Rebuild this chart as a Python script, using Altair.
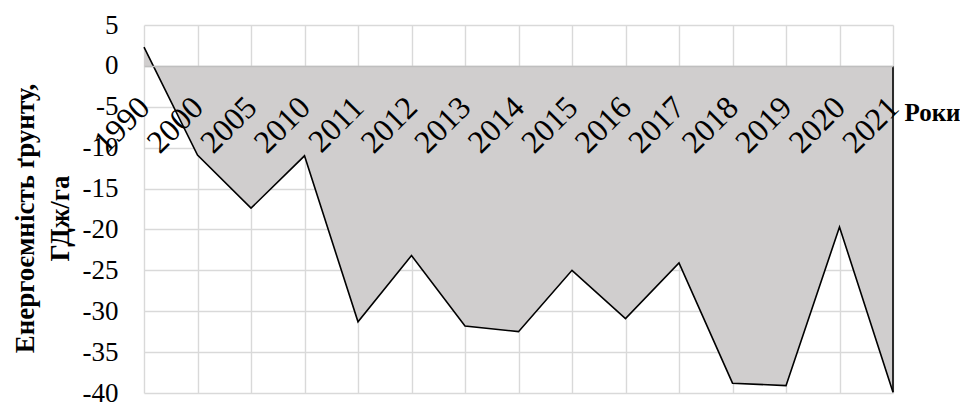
import altair as alt
import pandas as pd

years = ["1990", "2000", "2005", "2010", "2011", "2012", "2013", "2014",
         "2015", "2016", "2017", "2018", "2019", "2020", "2021"]
values = [2.3, -10.9, -17.4, -11.0, -31.3, -23.2, -31.8, -32.5,
          -25.0, -30.9, -24.1, -38.8, -39.1, -19.7, -39.9]
y_ticks = [5, 0, -5, -10, -15, -20, -25, -30, -35, -40]
y_title = ["Енергоємність ґрунту,", "ГДж/га"]
x_title = "Роки"

df = pd.DataFrame({"year": years, "value": values})

W, H = 749, 368
FONT = "Liberation Serif"
GRID = "#d9d9d9"

xscale = alt.Scale(type="point", padding=0, domain=years)
yscale = alt.Scale(domain=[-40, 5], nice=False, zero=False)

grid_x_axis = alt.Axis(
    orient="bottom", grid=True, gridColor=GRID, gridWidth=1.4, labels=False,
    ticks=False, domain=False, title=None, zindex=0,
)
label_x_axis = alt.Axis(
    orient="bottom", grid=False, labels=True, ticks=False, tickSize=0,
    domain=True, domainColor="#bfbfbf", domainWidth=1.5,
    offset=-H * 40 / 45,
    labelAngle=315, labelAlign="right", labelBaseline="middle",
    labelPadding=36, labelOffset=0, labelFont=FONT, labelFontSize=32,
    labelColor="black", labelOverlap=False, labelFlush=False, labelBound=False,
    title=x_title, titleFont=FONT, titleFontSize=25, titleFontWeight="bold",
    titleColor="black", titleAngle=0, titleAlign="left", titleBaseline="middle",
    titleX=760, titleY=47, zindex=1,
)
y_axis = alt.Axis(
    values=y_ticks, grid=True, gridColor=GRID, gridWidth=1.4, domain=False,
    ticks=False, labelPadding=26, labelFont=FONT, labelFontSize=27,
    labelColor="black", labelExpr="'' + datum.value",
    title=y_title, titleFont=FONT, titleFontSize=27, titleFontWeight="bold",
    titleColor="black", titleAngle=270, titleX=-111, titleY=193,
    titleAlign="center", titleBaseline="alphabetic", titleLineHeight=35,
)

area = alt.Chart(df).mark_area(color="#d0cece", opacity=1).encode(
    x=alt.X("year:O", sort=None, scale=xscale, axis=grid_x_axis),
    y=alt.Y("value:Q", scale=yscale, axis=y_axis),
    y2=alt.datum(0),
)
line = alt.Chart(df).mark_line(color="black", strokeWidth=1.6).encode(
    x=alt.X("year:O", sort=None, scale=xscale, axis=label_x_axis),
    y=alt.Y("value:Q", scale=yscale, axis=y_axis),
)
edge = alt.Chart(df).transform_filter(
    alt.datum.year == years[-1]
).mark_rule(color="black", strokeWidth=1.6).encode(
    x=alt.X("year:O", sort=None, scale=xscale, axis=None),
    y=alt.Y("value:Q", scale=yscale, axis=y_axis),
    y2=alt.datum(0),
)

chart = alt.layer(area, line, edge).resolve_axis(x="independent").properties(
    width=W, height=H,
    autosize=alt.AutoSizeParams(type="none"),
    padding={"left": 136, "top": 17, "right": 67, "bottom": 12},
    background="white",
).configure_view(stroke=None)

chart.save("out.html", embed_options={"renderer": "svg", "actions": False})
